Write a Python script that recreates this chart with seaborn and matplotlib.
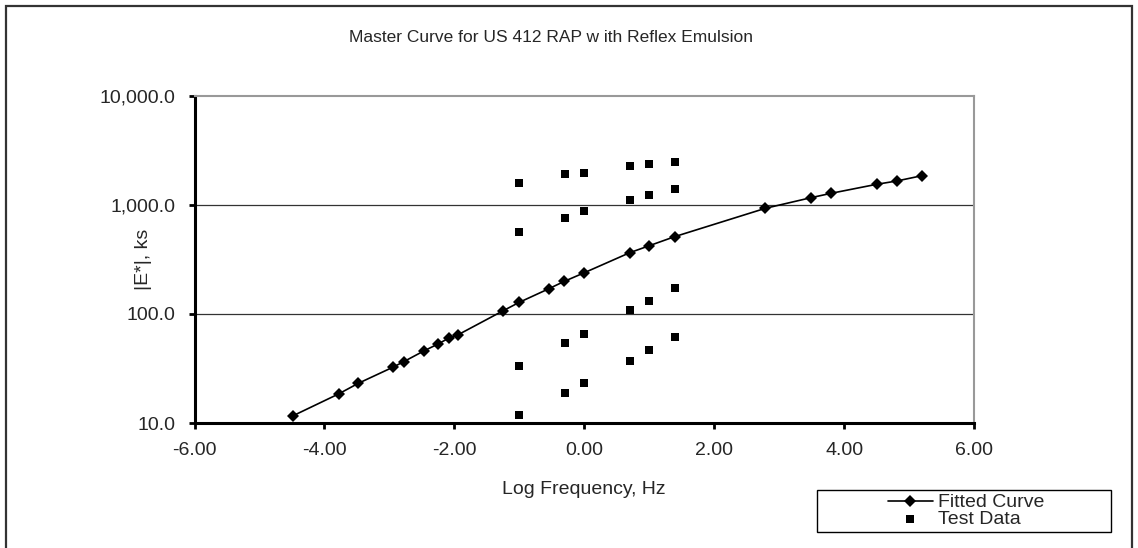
import numpy as np
import pandas as pd
import matplotlib
matplotlib.use("Agg")
import matplotlib.pyplot as plt
import matplotlib.ticker as mticker
from matplotlib.patches import Rectangle
import seaborn as sns

# Fitted master curve (log frequency vs |E*|)
fit_logf = [-4.49, -3.78, -3.48, -2.95, -2.78, -2.47, -2.25, -2.08, -1.94,
            -1.25, -1.00, -0.55, -0.31, 0.00, 0.70, 1.00, 1.39,
            2.79, 3.49, 3.80, 4.50, 4.81, 5.20]
fit_modulus = [11.6, 18.5, 23.1, 32.4, 36.5, 45.8, 53.1, 60.3, 64.6,
               107, 128, 170, 199, 239, 365, 423, 512,
               933, 1167, 1280, 1548, 1660, 1858]

# Measured test data
test_logf = [-1.00] * 4 + [-0.30] * 4 + [0.00] * 4 + [0.70] * 4 + [1.00] * 4 + [1.40] * 4
test_modulus = [1580, 562, 33.3, 11.8,
                1914, 760, 54.6, 18.7,
                1978, 881, 65.9, 23.4,
                2295, 1104, 108, 37.3,
                2395, 1245, 132, 46.8,
                2479, 1403, 172, 61.1]

fit_df = pd.DataFrame({"logf": fit_logf, "E": fit_modulus})
test_df = pd.DataFrame({"logf": test_logf, "E": test_modulus})

sns.set_style("white")
plt.rcParams["font.family"] = ["Liberation Sans", "DejaVu Sans"]

W, H = 1138, 548
fig = plt.figure(figsize=(W / 100, H / 100), dpi=100)
ax = fig.add_axes([194.5 / W, 1 - 423 / H, (974 - 194.5) / W, (423 - 96) / H])

sns.lineplot(data=fit_df, x="logf", y="E", ax=ax, sort=False, color="black",
             lw=1.2, marker="D", markersize=6, markeredgewidth=0,
             label="Fitted Curve")
sns.scatterplot(data=test_df, x="logf", y="E", ax=ax, color="black",
                marker="s", s=32, linewidth=0, label="Test Data")

ax.set_yscale("log")
ax.set_xlim(-6, 6)
ax.set_ylim(10, 10000)
ax.set_xticks(np.arange(-6, 7, 2))
ax.set_yticks([10, 100, 1000, 10000])
ax.yaxis.set_minor_locator(mticker.NullLocator())
ax.xaxis.set_major_formatter(mticker.FuncFormatter(lambda v, p: f"{v:.2f}"))
ax.yaxis.set_major_formatter(mticker.FuncFormatter(lambda v, p: f"{v:,.1f}"))

# gridlines like the spreadsheet chart
for yv in [100, 1000]:
    ax.axhline(yv, color="#333333", lw=0.9, zorder=0)

for s in ["left", "bottom"]:
    ax.spines[s].set_color("black")
    ax.spines[s].set_linewidth(2.2)
for s in ["top", "right"]:
    ax.spines[s].set_color("#999999")
    ax.spines[s].set_linewidth(1.5)

ax.tick_params(axis="both", direction="out", length=4, width=2, color="black",
               labelsize=14, left=True, bottom=True)
ax.tick_params(axis="x", pad=10)
ax.tick_params(axis="y", pad=10)
ax.set_xlabel("Log Frequency, Hz", fontsize=14)
ax.set_ylabel("|E*|, ks", fontsize=14)
ax.xaxis.set_label_coords(0.5, (423 - 489) / 327)
ax.yaxis.set_label_coords((143 - 194.5) / 779.5, 0.5)
ax.xaxis.label.set_va("center")
ax.yaxis.label.set_va("center")
fig.text(551 / W, 1 - 38 / H, "Master Curve for US 412 RAP w ith Reflex Emulsion",
         ha="center", va="center", fontsize=12.5)

handles, labels = ax.get_legend_handles_labels()
ax.get_legend().remove()
fig.legend(handles, labels, loc="center", bbox_to_anchor=(966 / W, 1 - 511 / H),
           frameon=False, fontsize=14, handlelength=2.3, handletextpad=0.25,
           labelspacing=-0.05, borderpad=0.0, scatterpoints=1)
fig.patches.append(Rectangle((817 / W, 1 - 532 / H), 294 / W, 42 / H,
                             transform=fig.transFigure, fill=False,
                             edgecolor="black", lw=1))

# outer chart border
fig.patches.append(Rectangle((5.5 / W, -0.05), (1132 - 5.5) / W, 1.05 - 5.5 / H,
                             transform=fig.transFigure, fill=False,
                             edgecolor="#333333", lw=1.6))

fig.savefig("out.png", dpi=100)
